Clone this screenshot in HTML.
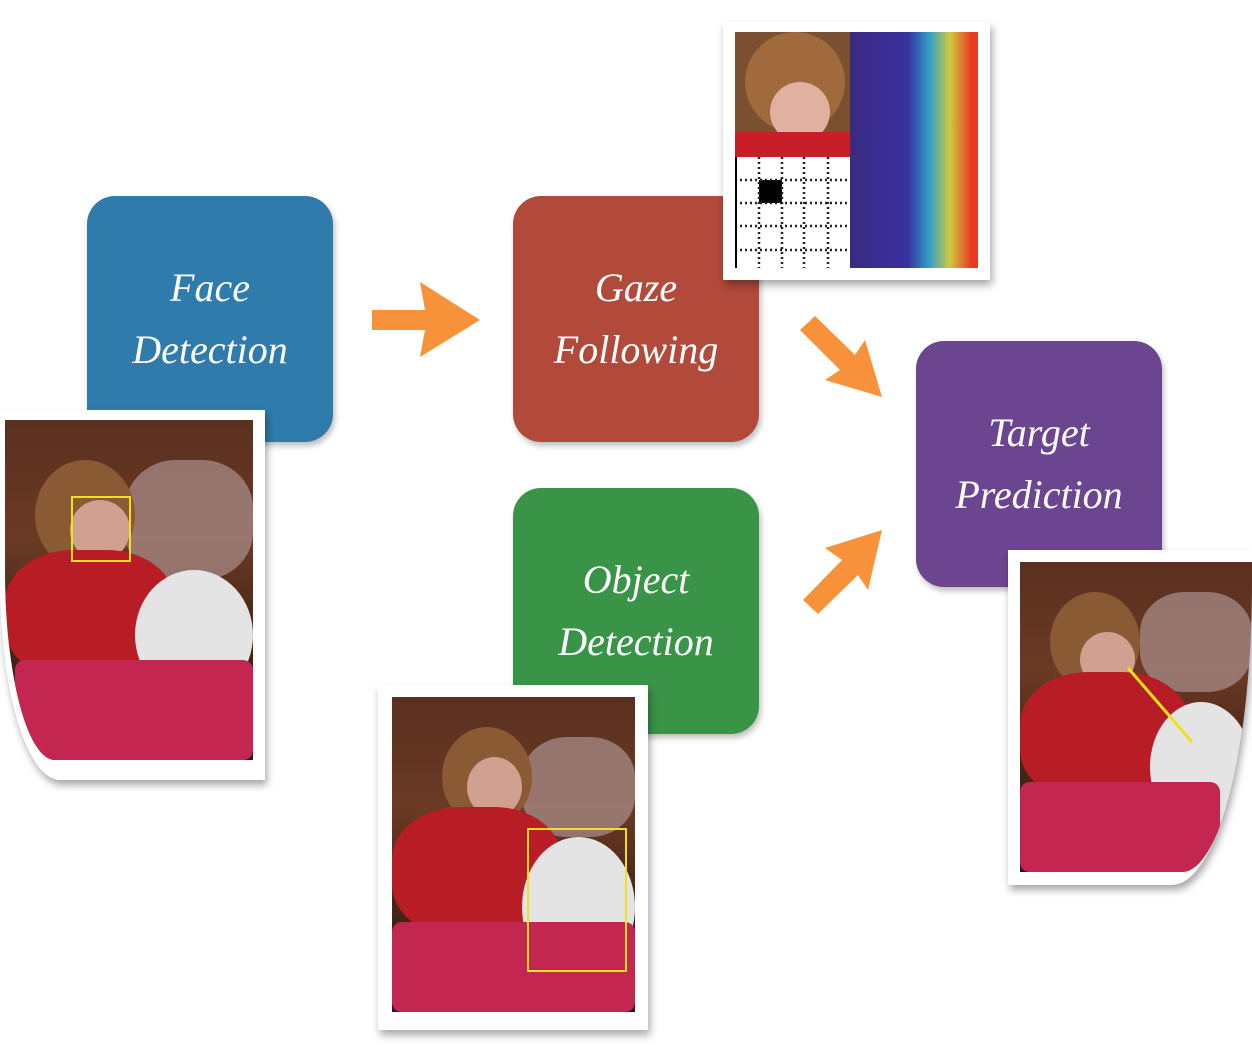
<!DOCTYPE html>
<html><head><meta charset="utf-8"><style>
body{margin:0;width:1252px;height:1046px;background:#fff;position:relative;overflow:hidden;font-family:"Liberation Serif",serif}
.box{position:absolute;width:246px;height:246px;border-radius:28px;color:#fff;display:flex;align-items:center;justify-content:center;text-align:center;font-size:40px;line-height:62px;font-style:italic;box-shadow:2px 4px 6px rgba(0,0,0,.25)}
.ph{position:absolute;background:#fff;box-shadow:2px 5px 8px rgba(0,0,0,.35)}
.img{position:absolute;overflow:hidden;background:linear-gradient(180deg,#5a3020 0%,#6b3a24 35%,#4a2818 60%,#2e1a14 100%)}
.img div{position:absolute}
</style></head><body>

<div class="box" style="left:87px;top:196px;background:#2f7bab">Face<br>Detection</div>
<div class="box" style="left:513px;top:196px;background:#b24a3b">Gaze<br>Following</div>
<div class="box" style="left:513px;top:488px;background:#3a9447">Object<br>Detection</div>
<div class="box" style="left:916px;top:341px;background:#6b4590">Target<br>Prediction</div>

<svg style="position:absolute;left:0;top:0" width="1252" height="1046">
<g fill="#f7923a">
<polygon points="372,310 425,310 420,282 480,320 420,357 425,330 372,330"/>
<polygon points="800,330 815,316 855,355 865,340 882,397 825,380 840,370"/>
<polygon points="803,600 818,614 858,575 868,590 882,530 825,548 842,560"/>
</g>
</svg>

<!-- photo 1 -->
<div class="ph" style="left:0;top:410px;width:265px;height:370px;border-bottom-left-radius:60px 200px"></div>
<div class="img" style="left:5px;top:420px;width:248px;height:340px;border-bottom-left-radius:50px 190px">
 <div style="left:120px;top:40px;width:128px;height:120px;background:#b8a0a0;border-radius:40%;opacity:.6"></div>
 <div style="left:30px;top:40px;width:100px;height:110px;background:#8a5a34;border-radius:50%"></div>
 <div style="left:65px;top:80px;width:60px;height:60px;background:#d0a090;border-radius:50%"></div>
 <div style="left:0;top:130px;width:170px;height:130px;background:#b81c24;border-radius:40%"></div>
 <div style="left:130px;top:150px;width:118px;height:130px;background:#e4e4e4;border-radius:50%"></div>
 <div style="left:10px;top:240px;width:238px;height:100px;background:#c42652;border-radius:10px"></div>
 <div style="left:66px;top:76px;width:56px;height:62px;border:2px solid #f0e020"></div>
</div>

<!-- heatmap photo -->
<div class="ph" style="left:723px;top:22px;width:267px;height:258px"></div>
<div class="img" style="left:735px;top:32px;width:115px;height:125px;background:#7a5030">
 <div style="left:10px;top:0;width:100px;height:100px;background:#a06a3c;border-radius:50%"></div>
 <div style="left:35px;top:50px;width:60px;height:60px;background:#e0b0a0;border-radius:50%"></div>
 <div style="left:0;top:100px;width:115px;height:25px;background:#c81e28"></div>
</div>
<svg style="position:absolute;left:735px;top:157px" width="115" height="111">
<rect width="115" height="111" fill="#fff"/>
<rect x="24" y="23" width="23" height="23" fill="#000"/>
<g stroke="#222" stroke-width="2.5" stroke-dasharray="2 3">
<line x1="24" y1="0" x2="24" y2="111"/><line x1="47" y1="0" x2="47" y2="111"/><line x1="69" y1="0" x2="69" y2="111"/><line x1="93" y1="0" x2="93" y2="111"/>
<line x1="0" y1="23" x2="115" y2="23"/><line x1="0" y1="46" x2="115" y2="46"/><line x1="0" y1="69" x2="115" y2="69"/><line x1="0" y1="93" x2="115" y2="93"/>
</g>
<line x1="1" y1="0" x2="1" y2="111" stroke="#000" stroke-width="2"/>
</svg>
<div class="img" style="left:850px;top:32px;width:128px;height:236px;background:linear-gradient(90deg,#3a2a80 0%,#3a30a0 45%,#30a0c8 62%,#d0c840 78%,#e83a20 95%)"></div>

<!-- photo 2 -->
<div class="ph" style="left:378px;top:685px;width:270px;height:345px"></div>
<div class="img" style="left:392px;top:697px;width:243px;height:315px">
 <div style="left:130px;top:40px;width:113px;height:100px;background:#b8a0a0;border-radius:40%;opacity:.6"></div>
 <div style="left:50px;top:30px;width:90px;height:100px;background:#8a5a34;border-radius:50%"></div>
 <div style="left:75px;top:60px;width:55px;height:60px;background:#d0a090;border-radius:50%"></div>
 <div style="left:0;top:110px;width:170px;height:130px;background:#b81c24;border-radius:40%"></div>
 <div style="left:130px;top:140px;width:113px;height:140px;background:#e4e4e4;border-radius:50%"></div>
 <div style="left:0;top:225px;width:243px;height:90px;background:#c42652;border-radius:10px"></div>
 <div style="left:135px;top:131px;width:96px;height:140px;border:2px solid #f0e020"></div>
</div>

<!-- photo 3 -->
<div class="ph" style="left:1008px;top:550px;width:244px;height:335px;border-bottom-right-radius:80px 300px"></div>
<div class="img" style="left:1020px;top:562px;width:232px;height:310px;border-bottom-right-radius:70px 290px">
 <div style="left:120px;top:30px;width:112px;height:100px;background:#b8a0a0;border-radius:40%;opacity:.6"></div>
 <div style="left:30px;top:30px;width:90px;height:100px;background:#8a5a34;border-radius:50%"></div>
 <div style="left:60px;top:70px;width:55px;height:55px;background:#d0a090;border-radius:50%"></div>
 <div style="left:0;top:110px;width:170px;height:130px;background:#b81c24;border-radius:40%"></div>
 <div style="left:130px;top:140px;width:102px;height:130px;background:#e4e4e4;border-radius:50%"></div>
 <div style="left:0;top:220px;width:200px;height:90px;background:#c42652;border-radius:10px"></div>
</div>
<svg style="position:absolute;left:0;top:0" width="1252" height="1046"><line x1="1128" y1="668" x2="1192" y2="742" stroke="#f0e020" stroke-width="3"/></svg>

</body></html>
